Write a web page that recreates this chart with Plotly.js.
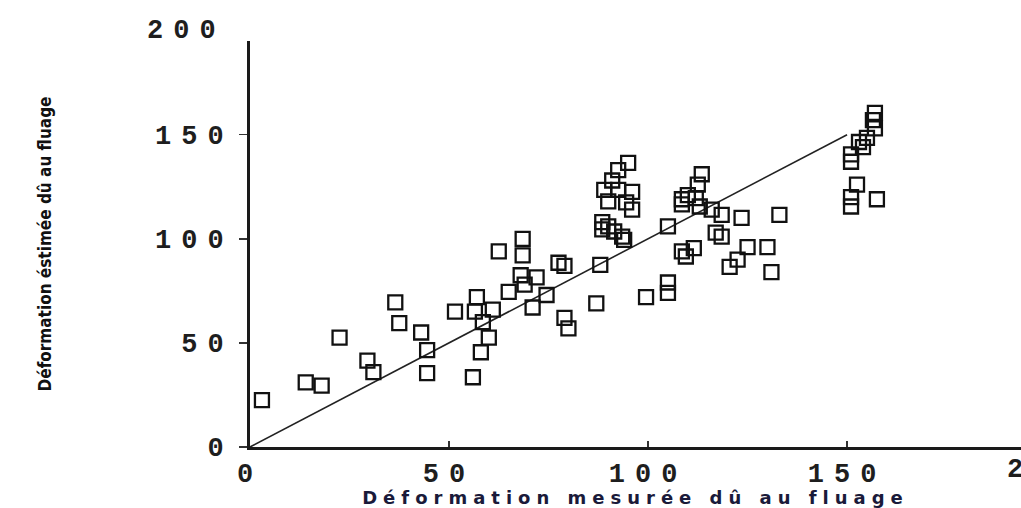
<!DOCTYPE html>
<html>
<head>
<meta charset="utf-8">
<script src="https://cdn.plot.ly/plotly-3.0.1.min.js"></script>
<style>html,body{margin:0;padding:0;background:#fff;overflow:hidden}#chart{width:1021px;height:508px}</style>
</head>
<body>
<div id="chart"></div>
<script>
// Measured creep deformation (x) vs estimated deformation (y)
const measured = [
  3, 14, 18, 22.5, 29.5, 31, 36.5, 37.5, 43, 44.5, 44.5,
  51.5, 56.5, 57, 61, 58.5, 60, 58, 56,
  62.5, 68.5, 68.5, 77.5, 79, 88,
  68, 72, 65, 69, 74.5, 71,
  79, 80, 87, 99.5, 105, 105,
  95, 92.5, 91, 89, 92.5, 96, 90, 94.5, 96, 88.5, 90, 88.5, 91.5, 93.5, 94,
  113.5, 112.5, 110, 108.5, 112, 108.5, 113, 116, 118.5, 123.5, 133, 105, 117, 118.5, 108.5, 109.5, 111.5, 125, 130, 122.5, 120.5, 131,
  157, 156.5, 157, 155, 153, 154, 151, 151, 152.5, 151, 157.5, 151
];
const estimated = [
  22.5, 31, 29.5, 52.5, 41.5, 36, 69.5, 59.5, 55, 46.5, 35.5,
  65, 65, 72, 66, 60, 52.5, 45.5, 33.5,
  94, 100, 92, 88.5, 87, 87.5,
  82.5, 81.5, 74.5, 78, 73, 67,
  62, 57, 69, 72, 79, 74,
  136.5, 133, 128, 123.5, 123.5, 122.5, 118, 117.5, 114, 108, 106, 104.5, 103.5, 101, 99.5,
  131, 126, 121, 119, 119.5, 116.5, 115.5, 114, 111.5, 110, 111.5, 106, 103, 101, 94, 91.5, 95.5, 96, 96, 90, 86.5, 84,
  160.5, 157, 153, 148.5, 146.5, 144, 140.5, 137, 126, 120, 119, 115.5
];
// Reference (equality) line
const lineX = [0, 150];
const lineY = [0, 150];

const xTickVals = [0, 50, 100, 150];
const xTickText = ['0', '50', '100', '150'];
const yTickVals = [0, 50, 100, 150];
const yTickText = ['0', '50', '100', '150'];
const extraXTick = '200';
const extraYTick = '200';

const xTitle = 'Déformation mesurée dû au fluage';
const yTitle = 'Déformation éstimée dû au fluage';

const wide = t => '<span style="letter-spacing:10px">' + t + '</span>';
const tickFont = {family: '"Liberation Mono", "DejaVu Sans Mono", monospace', size: 27, color: '#1e1e1e', weight: 'bold'};

const traces = [
  {
    x: lineX, y: lineY, type: 'scatter', mode: 'lines',
    line: {color: '#222', width: 1.6}, hoverinfo: 'skip', showlegend: false
  },
  {
    x: measured, y: estimated, type: 'scatter', mode: 'markers',
    marker: {symbol: 'square-open', size: 14, color: '#111', line: {width: 2.3, color: '#111'}},
    showlegend: false, cliponaxis: false
  }
];

const layout = {
  width: 1021, height: 508,
  margin: {l: 250, r: 0, t: 41, b: 61},
  paper_bgcolor: '#fff', plot_bgcolor: '#fff',
  showlegend: false,
  xaxis: {
    range: [0, 193.7], showgrid: false, zeroline: false,
    showline: true, linecolor: '#1a1a1a', linewidth: 2.5,
    tickmode: 'array', tickvals: xTickVals, ticktext: xTickText.map(wide),
    ticks: 'inside', ticklen: 6, tickwidth: 2, tickcolor: '#333',
    tickfont: tickFont,
    title: {text: '<span style="letter-spacing:6px">' + xTitle + '</span>', standoff: 2,
            font: {family: '"DejaVu Sans", "Liberation Sans", sans-serif', size: 18, color: '#1a1a3a', weight: 'bold'}},
    automargin: false, fixedrange: true
  },
  yaxis: {
    range: [0, 195], showgrid: false, zeroline: false,
    showline: true, linecolor: '#1a1a1a', linewidth: 3,
    tickmode: 'array', tickvals: yTickVals, ticktext: yTickText.map(wide),
    ticks: 'outside', ticklen: 8, tickwidth: 1.5, tickcolor: '#333',
    tickfont: tickFont,
    title: {text: yTitle, standoff: 100,
            font: {family: '"DejaVu Sans Condensed", "Liberation Sans Narrow", "Liberation Sans", sans-serif', size: 17, color: '#111', weight: 'bold'}},
    automargin: false, fixedrange: true
  },
  annotations: [
    {xref: 'paper', yref: 'paper', x: 0, y: 200 / 195, xanchor: 'right', yanchor: 'middle',
     xshift: -22, text: wide(extraYTick), showarrow: false, font: tickFont},
    {xref: 'paper', yref: 'paper', x: 200 / 193.7, y: 0, xanchor: 'center', yanchor: 'top',
     yshift: -6, xshift: 0, text: wide(extraXTick), showarrow: false, font: tickFont}
  ]
};

Plotly.newPlot('chart', traces, layout, {displayModeBar: false, staticPlot: true});
</script>
</body>
</html>
